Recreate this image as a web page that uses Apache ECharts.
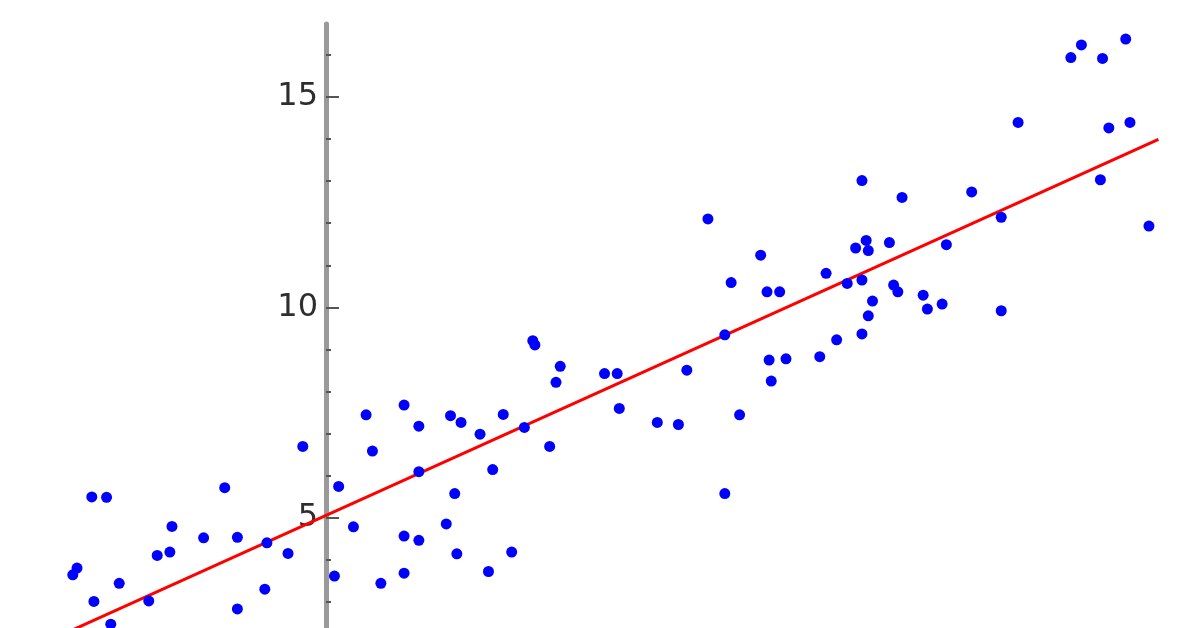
<!DOCTYPE html>
<html>
<head>
<meta charset="utf-8">
<script src="https://cdn.jsdelivr.net/npm/echarts@6/dist/echarts.min.js"></script>
<style>
html,body{margin:0;padding:0;background:#ffffff;}
#chart{width:1200px;height:628px;}
</style>
</head>
<body>
<div id="chart"></div>
<script>
// Scatter observations
const pointX = [-1.20,-1.18,-1.11,-1.04,-1.10,-1.02,-0.98,-0.84,-0.80,-0.74,-0.73,-0.58,-0.48,-0.42,-0.42,-0.29,-0.28,-0.18,-0.11,0.04,0.06,0.13,0.19,0.22,0.26,0.37,0.37,0.37,0.44,0.44,0.44,0.57,0.59,0.61,0.62,0.64,0.73,0.77,0.79,0.84,0.88,0.94,0.98,0.99,1.06,1.09,1.11,1.32,1.38,1.39,1.57,1.67,1.71,1.81,1.89,1.89,1.92,1.96,2.06,2.09,2.15,2.10,2.18,2.11,2.34,2.37,2.42,2.47,2.51,2.54,2.54,2.54,2.56,2.57,2.57,2.59,2.67,2.69,2.71,2.73,2.83,2.85,2.92,2.94,3.06,3.20,3.20,3.28,3.53,3.58,3.67,3.68,3.71,3.79,3.81,3.90];
const pointY = [3.65,3.81,5.50,5.49,3.02,2.48,3.45,3.03,4.11,4.19,4.80,4.53,5.72,4.54,2.84,3.31,4.41,4.16,6.70,3.62,5.75,4.79,7.45,6.59,3.45,7.68,4.57,3.69,7.18,6.10,4.47,4.86,7.43,5.58,4.15,7.27,6.99,3.73,6.15,7.46,4.19,7.15,9.21,9.11,6.70,8.22,8.60,8.43,8.43,7.60,7.27,7.22,8.51,12.10,9.35,5.58,10.59,7.45,11.24,10.37,10.37,8.75,8.78,8.25,8.83,10.81,9.23,10.57,11.41,13.01,10.65,9.37,11.59,11.35,9.80,10.15,11.54,10.53,10.37,12.61,10.29,9.96,10.08,11.49,12.74,12.14,9.92,14.39,15.93,16.23,13.03,15.91,14.26,16.37,14.39,11.93];
// Fitted regression line end points
const fitX = [-1.60, 3.945];
const fitY = [1.44, 13.99];
// Y axis ticks and labels
const majorTicks = [5, 10, 15];
const minorTicks = [1, 2, 3, 4, 6, 7, 8, 9, 11, 12, 13, 14, 16];

const scatterData = pointX.map((x, i) => [x, pointY[i]]);
const lineData = fitX.map((x, i) => [x, fitY[i]]);

const X_MIN = -1.545, X_MAX = 4.142;
const Y_MIN = 0, Y_MAX = 16.728;
const AXIS_SHIFT = -326; // moves the y axis to x = 0

const chart = echarts.init(document.getElementById('chart'), null, {renderer: 'canvas'});
chart.setOption({
  animation: false,
  backgroundColor: '#ffffff',
  grid: {left: 0, right: 0, top: 24, bottom: -100.6, containLabel: false, outerBoundsMode: 'none'},
  xAxis: {
    type: 'value', min: X_MIN, max: X_MAX, show: false,
    splitLine: {show: false}
  },
  yAxis: [
    {
      type: 'value', min: Y_MIN, max: Y_MAX, position: 'left', offset: AXIS_SHIFT,
      axisLine: {show: true, onZero: false, lineStyle: {color: '#9a9a9a', width: 5}},
      axisTick: {show: true, inside: true, length: 13, customValues: majorTicks, lineStyle: {color: '#555555', width: 2}},
      minorTick: {show: false},
      splitLine: {show: false},
      axisLabel: {
        show: true, margin: 8, color: '#2e2e2e', fontSize: 32, fontFamily: 'DejaVu Sans',
        customValues: majorTicks
      }
    },
    {
      type: 'value', min: Y_MIN, max: Y_MAX, position: 'left', offset: AXIS_SHIFT,
      axisLine: {show: false, onZero: false},
      axisTick: {show: true, inside: true, length: 5, customValues: minorTicks, lineStyle: {color: '#555555', width: 2}},
      minorTick: {show: false},
      splitLine: {show: false},
      axisLabel: {show: false}
    }
  ],
  series: [
    {
      type: 'line', data: lineData, showSymbol: false, symbol: 'none', z: 2,
      lineStyle: {color: '#ff0000', width: 3}
    },
    {
      type: 'scatter', data: scatterData, symbolSize: 11, clip: false, z: 3,
      itemStyle: {color: '#0000ff', opacity: 1}
    }
  ]
});
</script>
</body>
</html>
